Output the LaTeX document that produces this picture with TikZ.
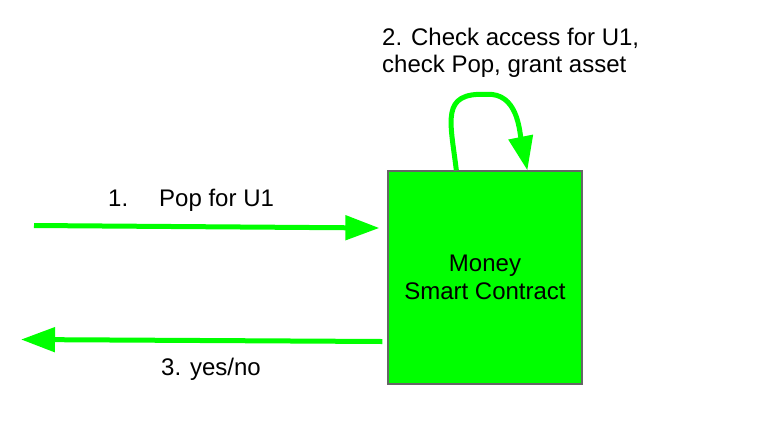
\documentclass[tikz,border=0pt]{standalone}
\usepackage{fontspec}
\setmainfont{Liberation Sans}
\usetikzlibrary{arrows.meta,calc}
\definecolor{brightgreen}{HTML}{00FF00}
\definecolor{edgegray}{HTML}{666666}
\begin{document}
\begin{tikzpicture}[x=1pt,y=-1pt,
  lbl/.style={font=\fontsize{24}{27.6}\selectfont, inner sep=0pt, anchor=base west},
  flow/.style={draw=brightgreen, line width=5pt, -{Triangle[length=34pt,width=24pt]}},
  contract/.style={draw=edgegray, line width=1.3pt, fill=brightgreen, minimum width=194pt, minimum height=213pt, inner sep=0pt, align=center, font=\fontsize{24}{27.6}\selectfont}]
\useasboundingbox (0,0) rectangle (767,429);
\node[contract] (box) at (485,277.5) {Money\\Smart Contract};
\coordinate (in0) at (34,225.5);
\coordinate (out1) at (21,339.5);
\coordinate (loopA) at ($(box.north west)+(69,0)$);
\coordinate (loopB) at ($(box.north west)+(140,0)$);
\coordinate (inEnd) at ($(box.west)+(-8,-49.5)$);
\coordinate (outStart) at ($(box.west)+(-5,64)$);
\draw[flow] (in0) -- (inEnd);
\draw[flow] (outStart) -- (out1);
\draw[flow] (loopA) .. controls ($(loopA)+(-6,-50)$) and ($(loopA)+(-16,-78)$) .. ($(loopA)+(30,-76)$) .. controls ($(loopB)+(-10,-78)$) and ($(loopB)+(-8,-40)$) .. (loopB);
\node[lbl] (t1) at (108,206) {1.\hspace{31pt}Pop for U1};
\node[lbl] (t2a) at (382,45) {2. Check access for U1,};
\node[lbl] (t2b) at (382,72) {check Pop, grant asset};
\node[lbl] (t3) at (161,375) {3. yes/no};
\end{tikzpicture}
\end{document}
